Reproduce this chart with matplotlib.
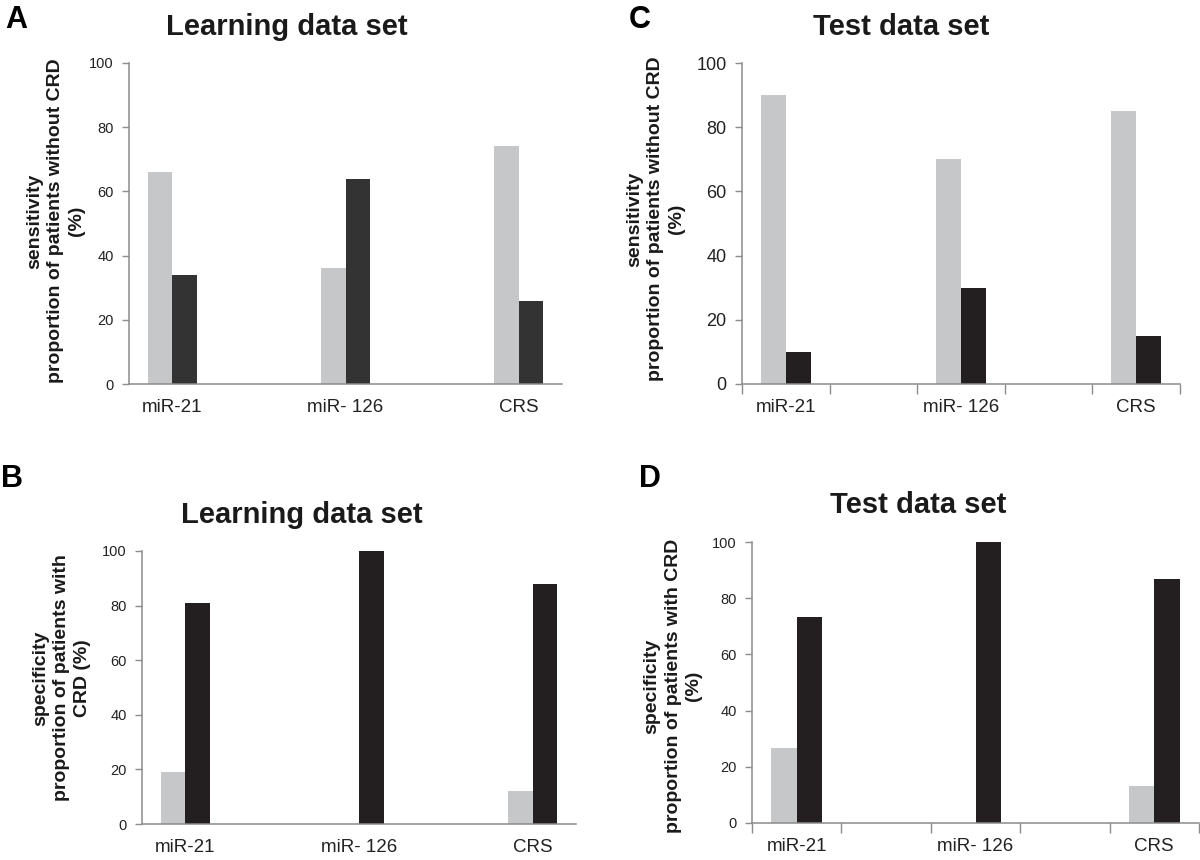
import matplotlib
matplotlib.use("Agg")
import matplotlib.pyplot as plt
import numpy as np

plt.rcParams['font.family'] = ['Liberation Sans', 'DejaVu Sans']

# data
categories = ["miR-21", "miR- 126", "CRS"]
sens_learn_gray = [66, 36, 74]
sens_learn_black = [34, 64, 26]
sens_test_gray = [90, 70, 85]
sens_test_black = [10, 30, 15]
spec_learn_gray = [19, 0, 12]
spec_learn_black = [81, 100, 88]
spec_test_gray = [26.7, 0, 13]
spec_test_black = [73.3, 100, 87]

W, H = 1200, 860
fig = plt.figure(figsize=(12, 8.6), dpi=100)
fig.patch.set_facecolor("white")

gray = "#c6c7c9"
spine_col = "#8c8c8c"


def px_rect(left, top, right, bottom):
    return [left / W, 1 - bottom / H, (right - left) / W, (bottom - top) / H]


def panel(rect, g, b, black, ytick_size, xticks_marked):
    ax = fig.add_axes(rect)
    pos = np.array([0, 2, 4])
    w = 0.283
    ax.bar(pos - w / 2, g, w, color=gray, linewidth=0)
    ax.bar(pos + w / 2, b, w, color=black, linewidth=0)
    ax.set_xlim(-0.5, 4.5)
    ax.set_ylim(0, 100)
    ax.set_yticks(range(0, 101, 20))
    ax.set_xticks(pos)
    ax.set_xticklabels(categories, fontsize=13.5, color="#222222")
    ax.tick_params(axis="x", length=0, pad=11)
    ax.tick_params(axis="y", length=5, width=1, color=spine_col,
                   labelsize=ytick_size, labelcolor="#222222", pad=6)
    if xticks_marked:
        ax.set_xticks(np.arange(-0.5, 4.6, 1.0), minor=True)
        ax.tick_params(axis="x", which="minor", length=7, width=1,
                       color=spine_col, direction="out")
    for s in ["top", "right"]:
        ax.spines[s].set_visible(False)
    for s in ["left", "bottom"]:
        ax.spines[s].set_color(spine_col)
        ax.spines[s].set_linewidth(1.1)
    return ax


panel(px_rect(129, 63, 562, 384), sens_learn_gray, sens_learn_black,
      "#333333", 10.5, False)
panel(px_rect(742, 63, 1180, 384), sens_test_gray, sens_test_black,
      "#231f20", 13, True)
panel(px_rect(142, 551, 576, 824), spec_learn_gray, spec_learn_black,
      "#231f20", 10.5, False)
panel(px_rect(752, 542, 1199, 823), spec_test_gray, spec_test_black,
      "#231f20", 10.5, True)


def ftext(x, y, s, **kw):
    fig.text(x / W, 1 - y / H, s, **kw)


# panel letters
for x, y, s in [(16, 20, "A"), (640, 20, "C"), (12, 479, "B"), (650, 479, "D")]:
    ftext(x, y, s, fontsize=22, fontweight="bold", ha="center", va="center")

# titles
for x, y, s in [(287, 27, "Learning data set"), (901, 27, "Test data set"),
                (302, 515, "Learning data set"), (918, 505, "Test data set")]:
    ftext(x, y, s, fontsize=21, fontweight="bold", ha="center", va="center",
          color="#1a1a1a")

# y labels
ylabs = [(56, 221, "sensitivity\nproportion of patients without CRD\n(%)"),
         (656, 219, "sensitivity\nproportion of patients without CRD\n(%)"),
         (62, 678, "specificity\nproportion of patients with\nCRD (%)"),
         (673, 686, "specificity\nproportion of patients with CRD\n(%)")]
for x, y, s in ylabs:
    ftext(x, y, s, fontsize=14, fontweight="bold", ha="center", va="center",
          rotation=90, multialignment="center", linespacing=1.3,
          color="#1a1a1a")

plt.savefig("out.png", dpi=100)
